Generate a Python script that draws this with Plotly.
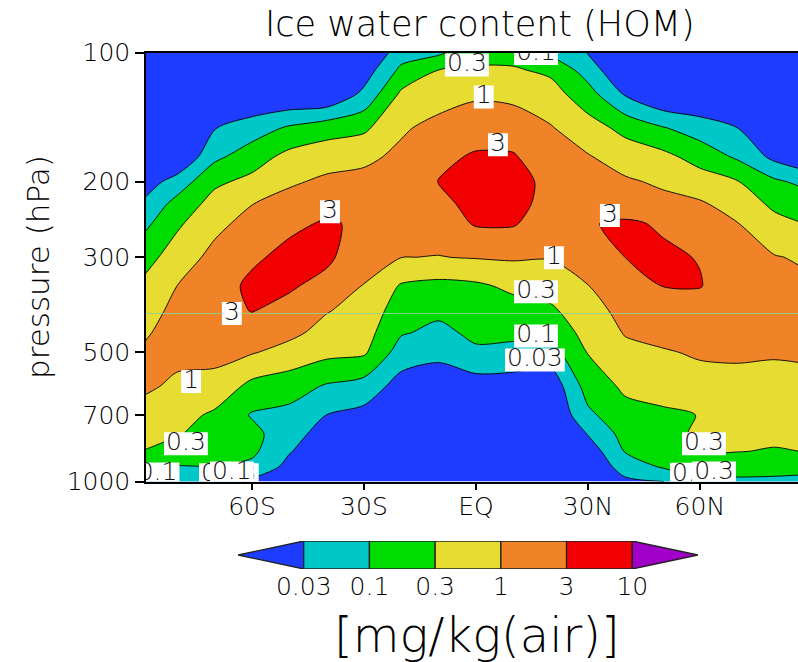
import numpy as np
import plotly.graph_objects as go

FONT = "DejaVu Sans"
WEIGHT = 300
W, H = 798, 662

# contour levels (mg/kg) and the printed level labels
levels = [0.03, 0.1, 0.3, 1, 3, 10]
level_labels = ["0.03", "0.1", "0.3", "1", "3", "10"]
band_colors = ["#1e3cff", "#00c8c8", "#00dc00", "#e6dc32", "#f08228", "#f00000", "#a000c8"]

# pressure levels (hPa), top to bottom
pressure = [100, 110, 125, 150, 175, 200, 225, 250, 300, 350, 400, 450, 500, 600, 700, 775, 850, 925, 1000]
latitude = [-90, -80, -70, -60, -50, -40, -30, -20, -10, 0, 10, 20, 30, 40, 50, 60, 70, 80, 90]

# zonal-mean ice water content (mg/kg) per latitude, ordered like `pressure`
iwc_90s = [0.01, 0.01, 0.01, 0.01, 0.01, 0.0152, 0.031, 0.062, 0.173, 0.346, 0.53, 0.76, 1.10, 1.26, 0.67, 0.45, 0.31, 0.094, 0.062]
iwc_80s = [0.01, 0.01, 0.01, 0.01, 0.01, 0.050, 0.147, 0.25, 0.548, 1.01, 1.37, 1.73, 1.32, 0.80, 0.47, 0.33, 0.18, 0.094, 0.062]
iwc_70s = [0.01, 0.01, 0.01, 0.0288, 0.076, 0.244, 0.46, 0.74, 1.35, 2.0, 2.09, 1.69, 1.35, 0.69, 0.248, 0.18, 0.132, 0.098, 0.062]
iwc_60s = [0.01, 0.01, 0.01, 0.0548, 0.18, 0.41, 0.97, 1.41, 2.6, 3.68, 3.11, 1.87, 1.08, 0.22, 0.09, 0.139, 0.125, 0.074, 0.024]
iwc_50s = [0.01, 0.01, 0.01, 0.117, 0.43, 0.84, 1.50, 2.49, 3.9, 3.43, 2.2, 1.30, 0.65, 0.164, 0.071, 0.047, 0.0326, 0.0216, 0.0155]
iwc_40s = [0.01, 0.01, 0.01, 0.189, 0.60, 1.23, 2.18, 3.3, 3.73, 2.18, 1.06, 0.67, 0.42, 0.088, 0.0297, 0.0193, 0.0139, 0.0125, 0.0112]
iwc_30s = [0.01, 0.0168, 0.040, 0.244, 0.78, 1.35, 1.91, 2.63, 1.55, 0.95, 0.67, 0.49, 0.36, 0.060, 0.0216, 0.0155, 0.0125, 0.0112, 0.01]
iwc_20s = [0.0548, 0.130, 0.37, 0.86, 1.25, 1.60, 1.93, 1.48, 1.02, 0.269, 0.166, 0.111, 0.056, 0.0193, 0.0125, 0.01, 0.01, 0.01, 0.01]
iwc_10s = [0.079, 0.307, 0.60, 1.38, 2.38, 3.1, 2.16, 1.62, 0.97, 0.22, 0.126, 0.074, 0.041, 0.0155, 0.01, 0.01, 0.01, 0.01, 0.01]
iwc_eq = [0.21, 0.35, 0.83, 1.92, 3.4, 4.86, 4.6, 3.4, 1.07, 0.25, 0.173, 0.127, 0.082, 0.0173, 0.01, 0.01, 0.01, 0.01, 0.01]
iwc_10n = [0.193, 0.346, 0.74, 1.79, 3.33, 4.86, 4.5, 3.38, 1.14, 0.382, 0.20, 0.13, 0.070, 0.0173, 0.01, 0.01, 0.01, 0.01, 0.01]
iwc_20n = [0.077, 0.241, 0.50, 1.08, 1.57, 2.16, 2.04, 1.60, 1.07, 0.51, 0.246, 0.139, 0.062, 0.0139, 0.01, 0.01, 0.01, 0.01, 0.01]
iwc_30n = [0.029, 0.060, 0.155, 0.51, 1.08, 1.42, 1.81, 2.85, 1.45, 0.98, 0.65, 0.455, 0.315, 0.160, 0.077, 0.0315, 0.0155, 0.0112, 0.01]
iwc_40n = [0.01, 0.01, 0.027, 0.22, 0.59, 1.15, 1.95, 3.38, 3.02, 1.80, 1.36, 1.07, 0.74, 0.37, 0.21, 0.15, 0.107, 0.052, 0.024]
iwc_50n = [0.01, 0.01, 0.01, 0.109, 0.42, 0.84, 1.32, 2.75, 3.43, 3.05, 1.81, 1.30, 0.92, 0.45, 0.256, 0.19, 0.142, 0.109, 0.029]
iwc_60n = [0.01, 0.01, 0.01, 0.0548, 0.197, 0.52, 1.13, 1.53, 2.9, 3.15, 1.89, 1.44, 1.10, 0.71, 0.307, 0.38, 0.31, 0.155, 0.079]
iwc_70n = [0.01, 0.01, 0.01, 0.0304, 0.084, 0.32, 0.62, 1.03, 1.35, 1.71, 1.48, 1.29, 1.12, 0.77, 0.52, 0.40, 0.31, 0.164, 0.079]
iwc_80n = [0.01, 0.01, 0.01, 0.01, 0.0225, 0.121, 0.236, 0.43, 1.06, 1.30, 1.55, 1.29, 1.09, 0.71, 0.48, 0.37, 0.283, 0.147, 0.079]
iwc_90n = [0.01, 0.01, 0.01, 0.01, 0.01, 0.065, 0.160, 0.272, 0.83, 1.14, 1.32, 1.36, 1.13, 0.79, 0.52, 0.40, 0.31, 0.139, 0.070]

lat_ticks = [-60, -30, 0, 30, 60]
lat_ticktext = ["60S", "30S", "EQ", "30N", "60N"]
p_ticks = [100, 200, 300, 500, 700, 1000]
p_ticktext = ["100", "200", "300", "500", "700", "1000"]

# level shown by each in-plot contour label, and where it sits (lat, hPa)
label_level = [4, 4, 2, 1, 3, 4, 3, 4, 3, 2, 1, 0, 2, 2, 1, 1, 2]
label_lat = [-39.1, -65.4, -2.4, 16.1, 2.1, 5.9, 20.9, 35.9, -76.3, 16.1, 16.1, 15.8, -77.7, 61.1, -85.3, -65.4, 63.8]
label_p = [235, 406, 107, 100.5, 127, 164, 301, 240, 585, 361, 458, 521, 817, 817, 960, 955, 955]
# labels partly hidden behind neighbouring ones near the surface
hidden_level = [0, 0]
hidden_lat = [-66.2, 60.0]
hidden_p = [965, 962]

ref_level = 406  # thin reference line (hPa)

columns = [iwc_90s, iwc_80s, iwc_70s, iwc_60s, iwc_50s, iwc_40s, iwc_30s, iwc_20s, iwc_10s,
           iwc_eq, iwc_10n, iwc_20n, iwc_30n, iwc_40n, iwc_50n, iwc_60n, iwc_70n, iwc_80n, iwc_90n]
iwc = np.array(columns).T  # rows follow `pressure`, columns follow `latitude`

# map values onto the level scale (one unit per contour level, log-spaced in between)
edges = np.log10([levels[0] / 3] + levels + [levels[-1] * 3])
z = np.interp(np.log10(iwc), edges, np.arange(-1, len(levels) + 1))

fig = go.Figure()

fig.add_trace(go.Contour(
    x=latitude, y=pressure, z=z,
    autocontour=False,
    contours=dict(start=0, end=len(levels) - 1, size=1, coloring="fill", showlines=True),
    colorscale=[[i / (len(band_colors) - 1), c] for i, c in enumerate(band_colors)],
    line=dict(color="black", width=0.9, smoothing=0.8),
    showscale=False, hoverinfo="skip",
))

fig.add_trace(go.Scatter(
    x=[latitude[0], latitude[-1]], y=[ref_level, ref_level], mode="lines",
    line=dict(color="rgba(140,215,150,0.9)", width=1), hoverinfo="skip",
))


def label_trace(lvls, lats, ps):
    texts = [level_labels[k] for k in lvls]
    widths = [4 + 15.9 * sum(ch.isdigit() for ch in t) + 8 * t.count(".") for t in texts]
    return go.Scatter(
        x=lats, y=ps, mode="markers+text", text=texts,
        textposition="middle center",
        textfont=dict(family=FONT, size=25, color="#111111", weight=WEIGHT),
        marker=dict(symbol="line-ew", size=[w / 1.4 for w in widths], color="white",
                    opacity=1, line=dict(color="white", width=23)),
        cliponaxis=True, hoverinfo="skip",
    )


fig.add_trace(label_trace(hidden_level, hidden_lat, hidden_p))
fig.add_trace(label_trace(label_level, label_lat, label_p))

# colour key: one box per band, arrow tips for the open-ended bands
n = len(levels)
for i, col in enumerate(band_colors):
    lo = i - 1
    if lo == -1:
        xs, ys = [lo, lo + 1, lo + 1, lo], [0.5, 1, 0, 0.5]
    elif lo == n - 1:
        xs, ys = [lo, lo + 1, lo, lo], [0, 0.5, 1, 0]
    else:
        xs, ys = [lo, lo + 1, lo + 1, lo, lo], [0, 0, 1, 1, 0]
    fig.add_trace(go.Scatter(
        x=xs, y=ys, mode="lines", fill="toself", fillcolor=col,
        line=dict(color="#222222", width=1.3), xaxis="x2", yaxis="y2",
        cliponaxis=False, hoverinfo="skip",
    ))

axis_common = dict(showgrid=False, zeroline=False, automargin=False, fixedrange=True)
tick_font = dict(size=25, weight=WEIGHT)

fig.update_layout(
    width=W, height=H, template="none",
    margin=dict(l=0, r=0, t=0, b=0),
    paper_bgcolor="white", plot_bgcolor="white",
    font=dict(family=FONT, size=25, color="black", weight=WEIGHT),
    showlegend=False,
    xaxis=dict(domain=[146 / W, 1], range=[-88.4, 86.3],
               tickvals=lat_ticks, ticktext=lat_ticktext,
               ticks="outside", ticklen=7, tickwidth=1.5, tickcolor="black",
               ticklabelstandoff=-5,
               showline=True, linecolor="black", linewidth=1.5, mirror=True,
               tickfont=tick_font, **axis_common),
    yaxis=dict(domain=[(H - 481.5) / H, (H - 52.5) / H], type="log",
               range=[np.log10(1000), np.log10(100)],
               tickvals=p_ticks, ticktext=p_ticktext,
               ticks="outside", ticklen=9, tickwidth=1.5, tickcolor="black",
               showline=True, linecolor="black", linewidth=1.5,
               tickfont=tick_font, **axis_common),
    xaxis2=dict(domain=[238 / W, 698 / W], range=[-1, n], anchor="y2",
                tickvals=list(range(n)), ticktext=level_labels, ticks="",
                showline=False, tickfont=tick_font, **axis_common),
    yaxis2=dict(domain=[(H - 569) / H, (H - 541) / H], range=[0, 1], anchor="x2",
                visible=False, **axis_common),
    annotations=[
        dict(text="Ice water content (HOM)", x=480 / W, y=(H - 24) / H,
             xref="paper", yref="paper", showarrow=False,
             xanchor="center", yanchor="middle", font=dict(size=35, weight=WEIGHT)),
        dict(text="pressure (hPa)", x=38 / W, y=(H - 267) / H, textangle=-90,
             xref="paper", yref="paper", showarrow=False,
             xanchor="center", yanchor="middle", font=dict(size=31, weight=WEIGHT)),
        dict(text="[mg/kg(air)]", x=477 / W, y=(H - 635) / H,
             xref="paper", yref="paper", showarrow=False,
             xanchor="center", yanchor="middle", font=dict(size=48, weight=WEIGHT)),
    ],
)

fig.write_html("out.html")
